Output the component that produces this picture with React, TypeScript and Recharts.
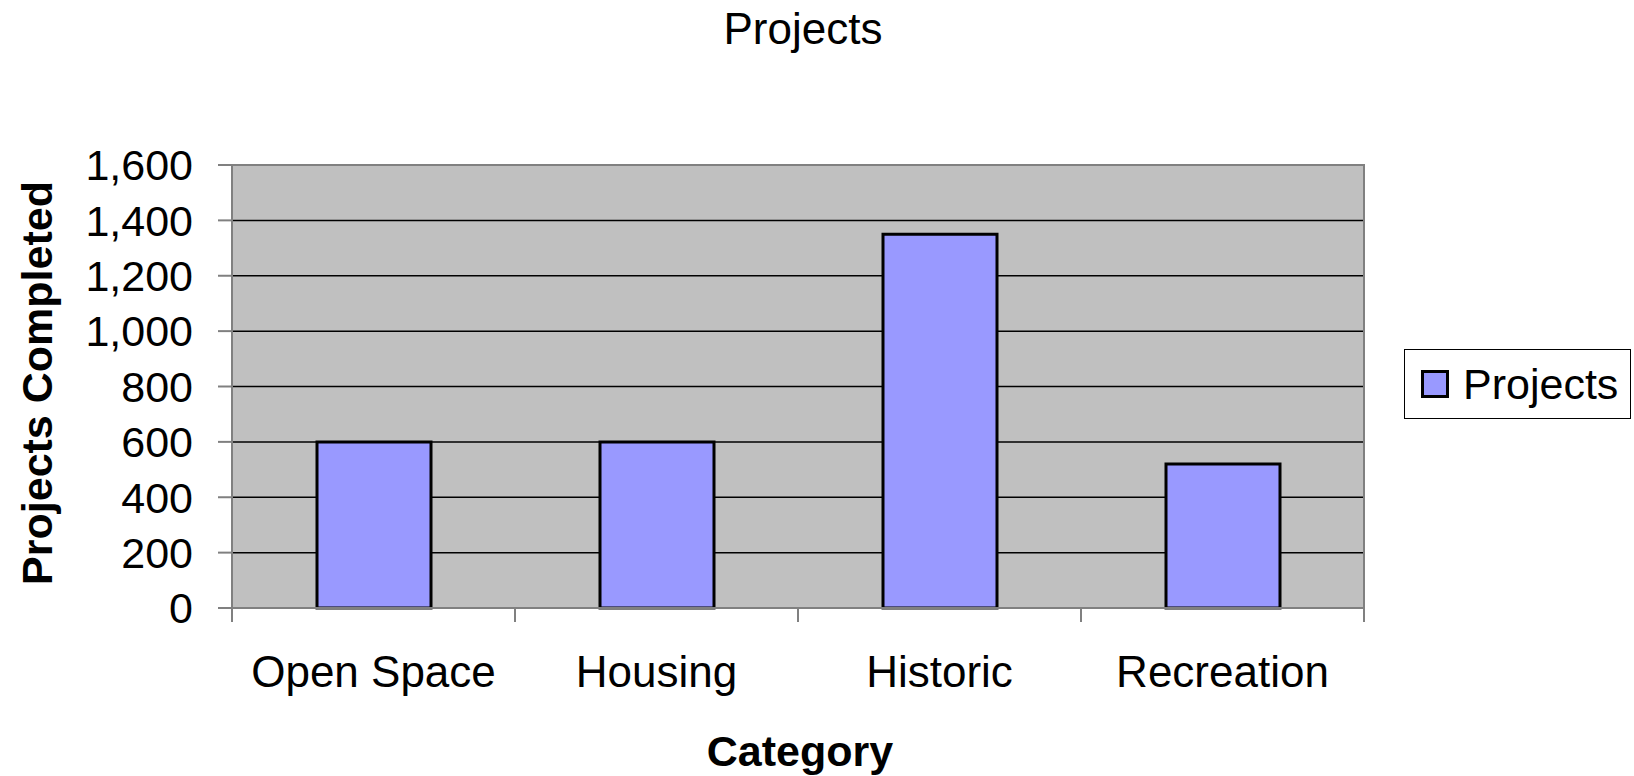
import { BarChart, Bar, XAxis, YAxis, CartesianGrid, ReferenceArea } from 'recharts';

const categories = ['Open Space', 'Housing', 'Historic', 'Recreation'];
const projects = [600, 600, 1350, 520];
const yTicks = [0, 200, 400, 600, 800, 1000, 1200, 1400, 1600];

const data = categories.map((name, i) => ({ name, projects: projects[i] }));

const FONT = '"Liberation Sans", Arial, sans-serif';
const AXIS_GRAY = '#808080';

// category labels plus Excel-style tick marks between the bands
const CategoryTick = (props: any) => {
  const { x, y, payload, index, width, visibleTicksCount } = props;
  const band = width / visibleTicksCount;
  const last = index === visibleTicksCount - 1;
  return (
    <g>
      <line x1={x - band / 2} x2={x - band / 2} y1={y} y2={y + 14} stroke={AXIS_GRAY} strokeWidth={2} />
      {last && <line x1={x + band / 2} x2={x + band / 2} y1={y} y2={y + 14} stroke={AXIS_GRAY} strokeWidth={2} />}
      <text x={x} y={y + 79} textAnchor="middle" fill="#000" fontSize={44} fontFamily={FONT}>
        {payload.value}
      </text>
    </g>
  );
};

export default function App() {
  return (
    <div style={{ position: 'absolute', left: 0, top: 0, width: 1634, height: 776, background: '#fff', fontFamily: FONT }}>
      <BarChart
        width={1634}
        height={776}
        data={data}
        margin={{ top: 165, right: 270, bottom: 108, left: 0 }}
        barCategoryGap="0%"
      >
        <CartesianGrid vertical={false} stroke="#000" strokeWidth={1.5} fill="#c0c0c0" />
        <ReferenceArea y1={0} y2={1600} fill="none" stroke={AXIS_GRAY} strokeWidth={2} ifOverflow="visible" />
        <XAxis
          dataKey="name"
          height={60}
          interval={0}
          tickLine={false}
          tickSize={0}
          tickMargin={0}
          axisLine={{ stroke: AXIS_GRAY, strokeWidth: 2 }}
          tick={<CategoryTick />}
        />
        <YAxis
          width={232}
          domain={[0, 1600]}
          ticks={yTicks}
          interval={0}
          tickFormatter={(v: number) => v.toLocaleString('en-US')}
          tickSize={14}
          tickMargin={25}
          tickLine={{ stroke: AXIS_GRAY, strokeWidth: 2 }}
          axisLine={{ stroke: AXIS_GRAY, strokeWidth: 2 }}
          tick={{ fill: '#000', fontSize: 43, fontFamily: FONT }}
        />
        <Bar dataKey="projects" fill="#9999ff" stroke="#000" strokeWidth={3} barSize={114} isAnimationActive={false} />
      </BarChart>

      <div style={{ position: 'absolute', left: 0, width: 1606, top: 4, textAlign: 'center', fontSize: 44, color: '#000' }}>
        Projects
      </div>
      <div style={{ position: 'absolute', left: 0, width: 1600, top: 727, textAlign: 'center', fontSize: 43, fontWeight: 'bold', color: '#000', lineHeight: '49px' }}>
        Category
      </div>
      <div
        style={{
          position: 'absolute',
          left: 37,
          top: 383,
          transform: 'translate(-50%, -50%) rotate(-90deg)',
          whiteSpace: 'nowrap',
          fontSize: 43,
          fontWeight: 'bold',
          color: '#000',
        }}
      >
        Projects Completed
      </div>

      <div
        style={{
          position: 'absolute',
          left: 1404,
          top: 349,
          width: 227,
          height: 70,
          border: '1px solid #000',
          display: 'flex',
          alignItems: 'center',
          boxSizing: 'border-box',
        }}
      >
        <span style={{ display: 'inline-block', width: 22, height: 22, background: '#9999ff', border: '3px solid #000', marginLeft: 16, marginRight: 14 }} />
        <span style={{ fontSize: 43, color: '#000' }}>Projects</span>
      </div>
    </div>
  );
}
